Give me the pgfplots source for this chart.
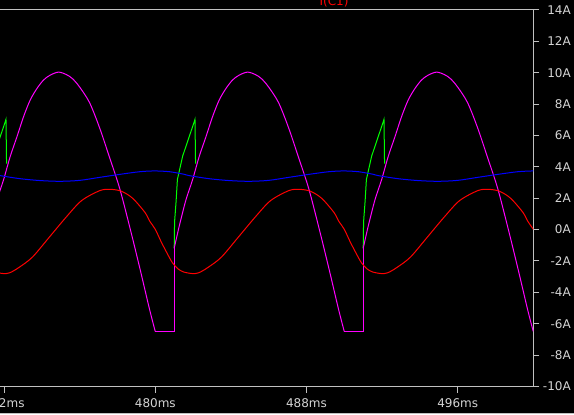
\documentclass[border=0pt]{standalone}
\usepackage{fontspec}
\setmainfont{DejaVu Sans}
\usepackage{pgfplots}
\pgfplotsset{compat=1.18}
\definecolor{axgray}{RGB}{192,192,192}
\definecolor{txtgray}{RGB}{212,212,212}
\definecolor{lmag}{RGB}{255,0,255}
\definecolor{lgreen}{RGB}{0,255,0}
\definecolor{lblue}{RGB}{0,0,255}
\definecolor{lred}{RGB}{255,0,0}
\begin{document}
\begin{tikzpicture}
\fill[black] (0pt,-20.625pt) rectangle (430.5pt,289.875pt);
\fill[axgray] (0pt,-20.625pt) rectangle (430.5pt,-19.8pt);
\begin{axis}[
  at={(-2.595pt,0pt)}, anchor=south west,
  scale only axis, width=402.57pt, height=282.375pt,
  xmin=471.6, xmax=500, ymin=-10, ymax=14,
  axis line style={axgray, line width=0.75pt},
  xtick={472,480,488,496},
  xticklabels={472ms,480ms,488ms,496ms},
  ytick={-10,-8,-6,-4,-2,0,2,4,6,8,10,12,14},
  yticklabels={-10A,-8A,-6A,-4A,-2A,0A,2A,4A,6A,8A,10A,12A,14A},
  xtick pos=bottom, ytick pos=right, yticklabel pos=right,
  tick align=outside, major tick length=4.5pt,
  tick style={axgray, line width=0.75pt},
  ticklabel style={text=txtgray, font=\fontsize{9}{10}\selectfont, inner sep=0pt},
  xticklabel style={anchor=north, yshift=-4.5pt},
  yticklabel style={anchor=east, xshift=23.8pt},
  every axis plot/.append style={line width=0.75pt},
]
% green (diode-like pulse), drawn below magenta
\addplot[lgreen] coordinates {(471,-1.19) (471.02,0.5) (471.10,1.8) (471.17,3.2) (471.30,3.9) (471.45,4.7) (471.62,5.3) (471.80,5.95) (471.97,6.55) (472.10,7.03) (472.13,4.2)};
\addplot[lgreen] coordinates {(481,-1.19) (481.02,0.5) (481.10,1.8) (481.17,3.2) (481.30,3.9) (481.45,4.7) (481.62,5.3) (481.80,5.95) (481.97,6.55) (482.10,7.03) (482.13,4.2)};
\addplot[lgreen] coordinates {(491,-1.19) (491.02,0.5) (491.10,1.8) (491.17,3.2) (491.30,3.9) (491.45,4.7) (491.62,5.3) (491.80,5.95) (491.97,6.55) (492.10,7.03) (492.13,4.2)};
% magenta
\addplot[lmag, smooth, tension=0.5] coordinates {(471,-1.19) (471.26,0.19) (471.62,1.89) (471.97,3.17) (472.32,4.65) (472.68,5.92) (473.03,7.2) (473.38,8.26) (473.74,9.0) (474.09,9.54) (474.44,9.85) (474.88,10.04) (475.3,9.88) (475.62,9.62) (475.99,9.1) (476.52,8.1) (477.05,6.5) (477.58,4.6) (478.11,2.65) (478.64,0.2) (479.17,-2.4) (479.70,-5.1) (480.0,-6.5)};
\addplot[lmag] coordinates {(480,-6.5) (481,-6.5) (481,-1.19)};
\addplot[lmag, smooth, tension=0.5] coordinates {(481,-1.19) (481.26,0.19) (481.62,1.89) (481.97,3.17) (482.32,4.65) (482.68,5.92) (483.03,7.2) (483.38,8.26) (483.74,9.0) (484.09,9.54) (484.44,9.85) (484.88,10.04) (485.3,9.88) (485.62,9.62) (485.99,9.1) (486.52,8.1) (487.05,6.5) (487.58,4.6) (488.11,2.65) (488.64,0.2) (489.17,-2.4) (489.70,-5.1) (490.0,-6.5)};
\addplot[lmag] coordinates {(490,-6.5) (491,-6.5) (491,-1.19)};
\addplot[lmag, smooth, tension=0.5] coordinates {(491,-1.19) (491.26,0.19) (491.62,1.89) (491.97,3.17) (492.32,4.65) (492.68,5.92) (493.03,7.2) (493.38,8.26) (493.74,9.0) (494.09,9.54) (494.44,9.85) (494.88,10.04) (495.3,9.88) (495.62,9.62) (495.99,9.1) (496.52,8.1) (497.05,6.5) (497.58,4.6) (498.11,2.65) (498.64,0.2) (499.17,-2.4) (499.70,-5.1) (500.0,-6.5)};
% red
\addplot[lred, smooth, tension=0.5] coordinates {(471.5,-2.7) (471.95,-2.80) (472.3,-2.75) (472.8,-2.40) (473.5,-1.75) (474.4,-0.47) (475.3,0.82) (476.1,1.85) (477.05,2.48) (477.6,2.57) (478.2,2.45) (478.8,2.0) (479.45,1.1) (479.7,0.55) (480.0,0.02) (480.3,-0.75) (480.6,-1.45) (480.9,-2.1) (481.2,-2.5) (481.5,-2.7) (481.95,-2.80) (482.3,-2.75) (482.8,-2.40) (483.5,-1.75) (484.4,-0.47) (485.3,0.82) (486.1,1.85) (487.05,2.48) (487.6,2.57) (488.2,2.45) (488.8,2.0) (489.45,1.1) (489.7,0.55) (490.0,0.02) (490.3,-0.75) (490.6,-1.45) (490.9,-2.1) (491.2,-2.5) (491.5,-2.7) (491.95,-2.80) (492.3,-2.75) (492.8,-2.40) (493.5,-1.75) (494.4,-0.47) (495.3,0.82) (496.1,1.85) (497.05,2.48) (497.6,2.57) (498.2,2.45) (498.8,2.0) (499.45,1.1) (499.7,0.55) (500.0,0.02)};
% blue
\addplot[lblue, smooth, tension=0.5] coordinates {(471.5,3.52) (471.76,3.45) (472.82,3.25) (473.88,3.13) (474.95,3.08) (476.0,3.14) (477.05,3.33) (478.11,3.52) (479.17,3.69) (479.96,3.74) (480.76,3.69) (481.55,3.52) (481.76,3.45) (482.82,3.25) (483.88,3.13) (484.95,3.08) (486.0,3.14) (487.05,3.33) (488.11,3.52) (489.17,3.69) (489.96,3.74) (490.76,3.69) (491.55,3.52) (491.76,3.45) (492.82,3.25) (493.88,3.13) (494.95,3.08) (496.0,3.14) (497.05,3.33) (498.11,3.52) (499.17,3.69) (499.96,3.74) (500.2,3.73)};
\end{axis}
\node[lred, anchor=base, font=\fontsize{9}{10}\selectfont, inner sep=0pt] at (250.5pt,285.6pt) {I(C1)};
\pgfresetboundingbox
\useasboundingbox (0pt,-20.625pt) rectangle (430.5pt,289.875pt);
\end{tikzpicture}
\end{document}
